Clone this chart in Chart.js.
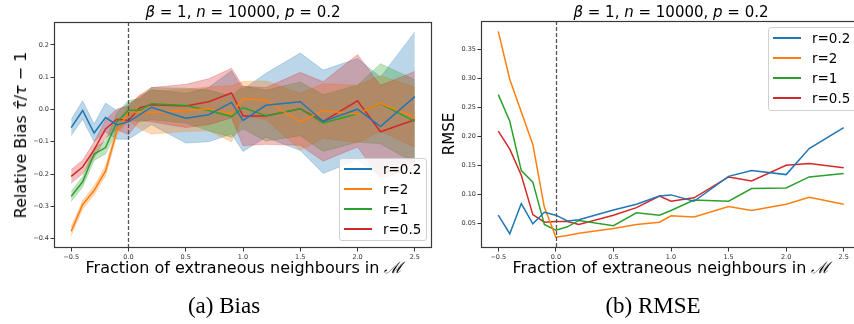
<!DOCTYPE html>
<html>
<head>
<meta charset="utf-8">
<script src="https://cdn.jsdelivr.net/npm/chart.js@4.4.0/dist/chart.umd.min.js"></script>
<style>
    body { margin: 0; width: 854px; height: 324px; overflow: hidden; background: #fff; position: relative; font-family: "DejaVu Sans", sans-serif; }
    canvas { position: absolute; top: 0; }
    #biasChart { left: 0; }
    #rmseChart { left: 434px; }
    .txt { position: absolute; white-space: nowrap; color: #000; transform: translate(-50%, -50%); line-height: 1; }
    .title { font-size: 15px; }
    .axlabel { font-size: 16px; }
    .caption { font-family: "Liberation Serif", serif; font-size: 23px; }
    .legend { position: absolute; background: rgba(255,255,255,0.85); border: 1px solid #d0d0d0; border-radius: 3px; box-sizing: border-box; }
    .legend .row { position: absolute; left: 0; height: 20px; display: flex; align-items: center; font-size: 13.5px; }
    .legend .sw { width: 28px; height: 1.6px; margin-left: 4px; margin-right: 11px; }
</style>
</head>
<body>
<canvas id="biasChart" width="434" height="324"></canvas>
<canvas id="rmseChart" width="430" height="324"></canvas>

<div class="txt title" style="left:243px; top:12px;"><i>β</i> = 1, <i>n</i> = 10000, <i>p</i> = 0.2</div>
<div class="txt title" style="left:671px; top:12px;"><i>β</i> = 1, <i>n</i> = 10000, <i>p</i> = 0.2</div>
<div class="txt axlabel" style="left:244px; top:268px;">Fraction of extraneous neighbours in <span style="font-family:'DejaVu Serif',serif;font-style:italic;">ℳ</span></div>
<div class="txt axlabel" style="left:671px; top:268px;">Fraction of extraneous neighbours in <span style="font-family:'DejaVu Serif',serif;font-style:italic;">ℳ</span></div>
<div class="txt axlabel" style="left:21px; top:135px; transform: translate(-50%, -50%) rotate(-90deg);">Relative Bias <i>τ̂</i>/<i>τ</i> − 1</div>
<div class="txt axlabel" style="left:449px; top:134px; font-size:15px; transform: translate(-50%, -50%) rotate(-90deg);">RMSE</div>
<div class="txt caption" style="left:224px; top:305px;">(a) Bias</div>
<div class="txt caption" style="left:653px; top:305px;">(b) RMSE</div>
<div class="legend" id="biasLegend" style="left:339px; top:158px; width:88px; height:83px;"></div>
<div class="legend" id="rmseLegend" style="left:768px; top:27px; width:92px; height:84px;"></div>

<script>
// ---- data ----
const xs = [-0.5, -0.4, -0.3, -0.2, -0.1, 0.0, 0.1, 0.2, 0.5, 0.7, 0.9, 1.0, 1.2, 1.5, 1.7, 2.0, 2.2, 2.5];
const seriesLabels = ['r=0.2', 'r=2', 'r=1', 'r=0.5'];
const xTicks = [-0.5, 0.0, 0.5, 1.0, 1.5, 2.0, 2.5];
const biasTicks = [-0.4, -0.3, -0.2, -0.1, 0.0, 0.1, 0.2];
const rmseTicks = [0.05, 0.10, 0.15, 0.20, 0.25, 0.30, 0.35];
const vlineX = 0;

// relative bias (mean lines)
const biasR02 = [-0.056, -0.003, -0.073, -0.025, -0.048, -0.038, -0.016, 0.007, -0.027, -0.016, 0.022, -0.034, 0.013, 0.024, -0.037, 0.001, -0.053, 0.040];
const biasR2  = [-0.377, -0.295, -0.251, -0.190, -0.065, -0.010, -0.008, -0.009, -0.003, 0.002, -0.013, 0.033, 0.029, -0.038, -0.004, -0.014, 0.019, -0.024];
const biasR1  = [-0.269, -0.224, -0.138, -0.118, -0.038, -0.002, -0.002, 0.018, 0.012, -0.003, -0.022, 0.006, -0.019, 0.002, -0.042, -0.013, 0.018, -0.037];
const biasR05 = [-0.207, -0.178, -0.125, -0.060, -0.030, -0.034, 0.006, 0.015, 0.011, 0.024, 0.051, -0.020, -0.020, 0.002, -0.037, 0.027, -0.069, -0.032];

// relative bias (confidence bands)
const biasR02Lo = [-0.081, -0.030, -0.100, -0.070, -0.092, -0.092, -0.070, -0.047, -0.104, -0.100, -0.076, -0.130, -0.086, -0.127, -0.198, -0.156, -0.206, -0.160];
const biasR02Hi = [-0.031, 0.027, -0.045, 0.020, -0.004, 0.018, 0.038, 0.062, 0.050, 0.068, 0.120, 0.062, 0.112, 0.175, 0.122, 0.158, 0.100, 0.240];
const biasR2Lo  = [-0.390, -0.308, -0.264, -0.205, -0.080, -0.034, -0.060, -0.076, -0.068, -0.066, -0.100, -0.021, -0.030, -0.126, -0.088, -0.103, -0.067, -0.116];
const biasR2Hi  = [-0.364, -0.282, -0.238, -0.175, -0.050, 0.014, 0.044, 0.058, 0.062, 0.070, 0.074, 0.087, 0.088, 0.050, 0.080, 0.075, 0.105, 0.068];
const biasR1Lo  = [-0.285, -0.240, -0.158, -0.138, -0.066, -0.032, -0.038, -0.032, -0.042, -0.066, -0.086, -0.060, -0.098, -0.081, -0.130, -0.101, -0.106, -0.166];
const biasR1Hi  = [-0.254, -0.208, -0.118, -0.098, -0.010, 0.028, 0.034, 0.068, 0.066, 0.060, 0.042, 0.072, 0.060, 0.085, 0.046, 0.075, 0.142, 0.092];
const biasR05Lo = [-0.228, -0.199, -0.150, -0.088, -0.062, -0.078, -0.033, -0.038, -0.056, -0.047, -0.026, -0.112, -0.108, -0.111, -0.160, -0.116, -0.213, -0.182];
const biasR05Hi = [-0.186, -0.157, -0.100, -0.032, 0.002, 0.010, 0.045, 0.068, 0.078, 0.095, 0.128, 0.072, 0.068, 0.115, 0.086, 0.170, 0.075, 0.118];

// RMSE
const rmseR02 = [0.064, 0.032, 0.084, 0.049, 0.069, 0.064, 0.054, 0.056, 0.073, 0.083, 0.097, 0.099, 0.088, 0.131, 0.141, 0.134, 0.179, 0.215];
const rmseR2  = [0.381, 0.298, 0.242, 0.186, 0.078, 0.026, 0.029, 0.033, 0.041, 0.048, 0.052, 0.063, 0.061, 0.079, 0.072, 0.083, 0.095, 0.083];
const rmseR1  = [0.272, 0.226, 0.141, 0.121, 0.048, 0.038, 0.044, 0.055, 0.046, 0.068, 0.064, 0.072, 0.090, 0.088, 0.110, 0.111, 0.130, 0.136];
const rmseR05 = [0.209, 0.178, 0.133, 0.065, 0.052, 0.053, 0.053, 0.048, 0.064, 0.077, 0.097, 0.088, 0.094, 0.130, 0.123, 0.150, 0.153, 0.146];

const lineColors = ['#1f77b4', '#ff7f0e', '#2ca02c', '#d62728'];
const bandColors = ['rgba(31,119,180,0.3)', 'rgba(255,127,14,0.3)', 'rgba(44,160,44,0.3)', 'rgba(214,39,40,0.3)'];

function pts(ys) {
    return xs.map((x, i) => ({ x: x, y: ys[i] }));
}

function lineDs(ys, color) {
    return { data: pts(ys), borderColor: color, borderWidth: 1.5, pointRadius: 0, fill: false, tension: 0 };
}

function bandDs(lo, hi, color) {
    return [
        { data: pts(lo), borderColor: color, borderWidth: 0.8, pointRadius: 0, fill: false, tension: 0 },
        { data: pts(hi), borderColor: color, borderWidth: 0.8, pointRadius: 0, fill: '-1', backgroundColor: color, tension: 0 }
    ];
}

function fmt(v, digits) {
    return v.toFixed(digits).replace('-', '\u2212');
}

// frame + dashed line at x = 0
const framePlugin = {
    id: 'frame',
    afterDatasetsDraw(chart) {
        const { ctx, chartArea: a, scales } = chart;
        const x0 = Math.round(scales.x.getPixelForValue(vlineX)) + 0.5;
        ctx.save();
        ctx.strokeStyle = '#555';
        ctx.lineWidth = 1.3;
        ctx.setLineDash([4, 2]);
        ctx.beginPath();
        ctx.moveTo(x0, a.top);
        ctx.lineTo(x0, a.bottom);
        ctx.stroke();
        ctx.setLineDash([]);
        ctx.strokeStyle = '#3a3a3a';
        ctx.lineWidth = 1.2;
        ctx.strokeRect(a.left + 0.5, a.top + 0.5, a.right - a.left - 1, a.bottom - a.top - 1);
        ctx.restore();
    }
};

function axisOpts(ticksArr, digits, min, max, fitFn) {
    return {
        type: 'linear',
        min: min,
        max: max,
        afterBuildTicks: s => { s.ticks = ticksArr.map(v => ({ value: v })); },
        afterFit: fitFn,
        border: { display: false },
        grid: { drawOnChartArea: false, drawTicks: true, tickLength: 3.5, tickColor: '#333', tickWidth: 1 },
        ticks: {
            autoSkip: false,
            maxRotation: 0,
            padding: 1.5,
            color: '#333',
            font: { family: 'DejaVu Sans', size: 6.5 },
            callback: v => fmt(v, digits)
        }
    };
}

function makeChart(id, datasets, yTicks, yDigits, yMin, yMax, yWidth, padTop, padRight) {
    const canvas = document.getElementById(id);
    return new Chart(canvas.getContext('2d'), {
        type: 'line',
        data: { datasets: datasets },
        options: {
            responsive: false,
            animation: false,
            devicePixelRatio: 1,
            layout: { autoPadding: false, padding: { top: padTop, right: padRight, left: 0, bottom: 0 } },
            plugins: { legend: { display: false }, tooltip: { enabled: false } },
            scales: {
                x: axisOpts(xTicks, 1, -0.65, 2.65, s => { s.height = 76; }),
                y: axisOpts(yTicks, yDigits, yMin, yMax, s => { s.width = yWidth; })
            }
        },
        plugins: [framePlugin]
    });
}

// Bias chart: lines on top, bands underneath (red band drawn last)
const biasMeans = [biasR02, biasR2, biasR1, biasR05];
const biasLo = [biasR02Lo, biasR2Lo, biasR1Lo, biasR05Lo];
const biasHi = [biasR02Hi, biasR2Hi, biasR1Hi, biasR05Hi];
let biasSets = biasMeans.map((m, i) => lineDs(m, lineColors[i]));
[3, 2, 1, 0].forEach(i => { biasSets = biasSets.concat(bandDs(biasLo[i], biasHi[i], bandColors[i])); });
makeChart('biasChart', biasSets, biasTicks, 1, -0.429, 0.271, 54, 22, 2);

// RMSE chart
const rmseSeries = [rmseR02, rmseR2, rmseR1, rmseR05];
const rmseSets = rmseSeries.map((s, i) => lineDs(s, lineColors[i]));
makeChart('rmseChart', rmseSets, rmseTicks, 2, 0.0074, 0.399, 47, 21, 3);

// legends
function buildLegend(id) {
    const box = document.getElementById(id);
    box.innerHTML = seriesLabels.map((lab, i) => `
        <div class="row" style="top:${i * 20}px;">
            <span class="sw" style="background:${lineColors[i]};"></span>${lab}
        </div>
    `).join('');
}
buildLegend('biasLegend');
buildLegend('rmseLegend');
</script>
</body>
</html>
